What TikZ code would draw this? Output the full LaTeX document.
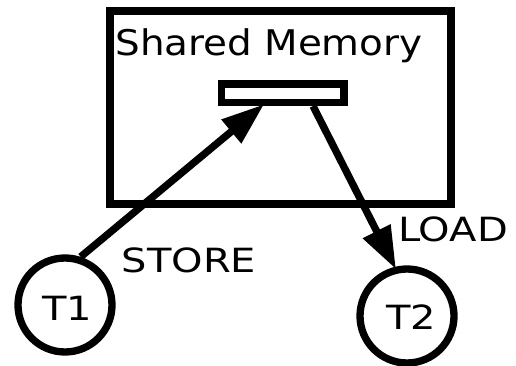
\documentclass[tikz,border=0pt]{standalone}
\usepackage{fontspec}
\setmainfont{DejaVu Sans}
\usetikzlibrary{arrows.meta}
\begin{document}
\begin{tikzpicture}[x=0.75pt,y=-0.75pt,
  thick line/.style={line width=5.5pt},
  thread/.style={circle,draw,line width=5.5pt,minimum size=70.5pt,inner sep=0pt},
  lbl/.style={font=\fontsize{25}{30}\selectfont,inner sep=0pt,xscale=1.2},
  arr/.style={line width=5.5pt,-{Triangle[length=32pt,width=22pt]},shorten >=-2pt}]
\useasboundingbox (0,0) rectangle (516,366);
\draw[thick line] (110,11) rectangle (451,204);
\node[inner sep=0pt,font=\fontsize{26.5}{30}\selectfont,xscale=1.1] (title) at (269,46) {Shared Memory};
\node[draw,line width=5.5pt,minimum width=92pt,minimum height=14pt,inner sep=0pt] (mem) at (282.5,93.5) {};
\node[thread] (t1) at (65,305) {};
\node[thread] (t2) at (407,316) {};
\node[lbl] (t1l) at (67,308) {T1};
\node[lbl] (t2l) at (411,317) {T2};
\coordinate (storeend) at (262,106);
\coordinate (loadstart) at (313,106);
\draw[arr] (t1.72) -- (storeend);
\draw[arr] (loadstart) -- (t2.104);
\node[lbl] (store) at (189,260) {STORE};
\node[lbl] (load) at (453,229) {LOAD};
\end{tikzpicture}
\end{document}
